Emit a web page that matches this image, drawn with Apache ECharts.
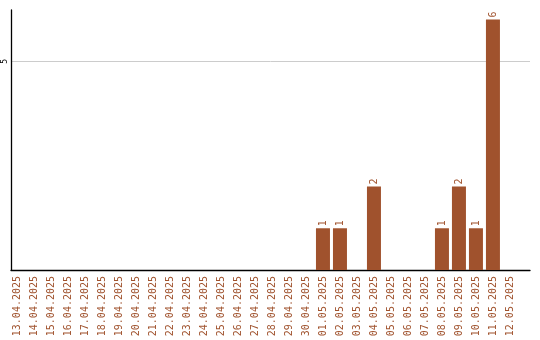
<!DOCTYPE html>
<html>
<head>
<meta charset="utf-8">
<script src="https://cdn.jsdelivr.net/npm/echarts@6/dist/echarts.min.js"></script>
<style>
  html, body { margin: 0; padding: 0; background: #fff; }
  #chart { width: 540px; height: 340px; }
</style>
</head>
<body>
<div id="chart"></div>
<script>
// Daily counts, 13.04.2025 – 12.05.2025
const dates = [
  '13.04.2025', '14.04.2025', '15.04.2025', '16.04.2025', '17.04.2025',
  '18.04.2025', '19.04.2025', '20.04.2025', '21.04.2025', '22.04.2025',
  '23.04.2025', '24.04.2025', '25.04.2025', '26.04.2025', '27.04.2025',
  '28.04.2025', '29.04.2025', '30.04.2025', '01.05.2025', '02.05.2025',
  '03.05.2025', '04.05.2025', '05.05.2025', '06.05.2025', '07.05.2025',
  '08.05.2025', '09.05.2025', '10.05.2025', '11.05.2025', '12.05.2025'
];
const counts = [
  0, 0, 0, 0, 0,
  0, 0, 0, 0, 0,
  0, 0, 0, 0, 0,
  0, 0, 0, 1, 1,
  0, 2, 0, 0, 0,
  1, 2, 1, 6, 0
];
const yTicks = [5];

const barColor = '#a0522d';
const mono = 'DejaVu Sans Mono';

const positions = dates.map((d, i) => i);

const chart = echarts.init(document.getElementById('chart'), null, { renderer: 'canvas' });
chart.setOption({
  animation: false,
  backgroundColor: '#ffffff',
  grid: { left: 11, right: 10, top: 10, bottom: 70, containLabel: false, outerBoundsMode: 'none' },
  xAxis: {
    type: 'value',
    min: -0.353,
    max: 30.18,
    axisLine: { show: true, onZero: false, lineStyle: { color: '#000', width: 1.3 } },
    axisTick: { show: false },
    splitLine: { show: false },
    axisLabel: {
      customValues: positions,
      rotate: 90,
      margin: 6,
      color: barColor,
      fontFamily: mono,
      fontSize: 10,
      formatter: v => dates[Math.round(v)] || ''
    }
  },
  yAxis: {
    type: 'value',
    min: 0,
    max: 6.23,
    interval: 5,
    axisLine: { show: true, onZero: false, lineStyle: { color: '#000', width: 1.3 } },
    axisTick: { show: false },
    splitLine: { show: true, showMinLine: false, showMaxLine: false, lineStyle: { color: '#cccccc', width: 1 } },
    axisLabel: {
      showMinLabel: false,
      showMaxLabel: false,
      rotate: 90,
      margin: 2,
      color: '#000',
      fontFamily: mono,
      fontSize: 8,
      formatter: v => (yTicks.includes(v) ? String(v) : '')
    }
  },
  series: [{
    type: 'bar',
    barWidth: 14,
    itemStyle: { color: barColor },
    data: counts.map((c, i) => [positions[i], c]),
    label: {
      show: true,
      position: 'top',
      rotate: 90,
      align: 'left',
      verticalAlign: 'middle',
      distance: 2,
      color: barColor,
      fontFamily: mono,
      fontSize: 10,
      formatter: p => (p.value[1] > 0 ? String(p.value[1]) : '')
    }
  }]
});
</script>
</body>
</html>
